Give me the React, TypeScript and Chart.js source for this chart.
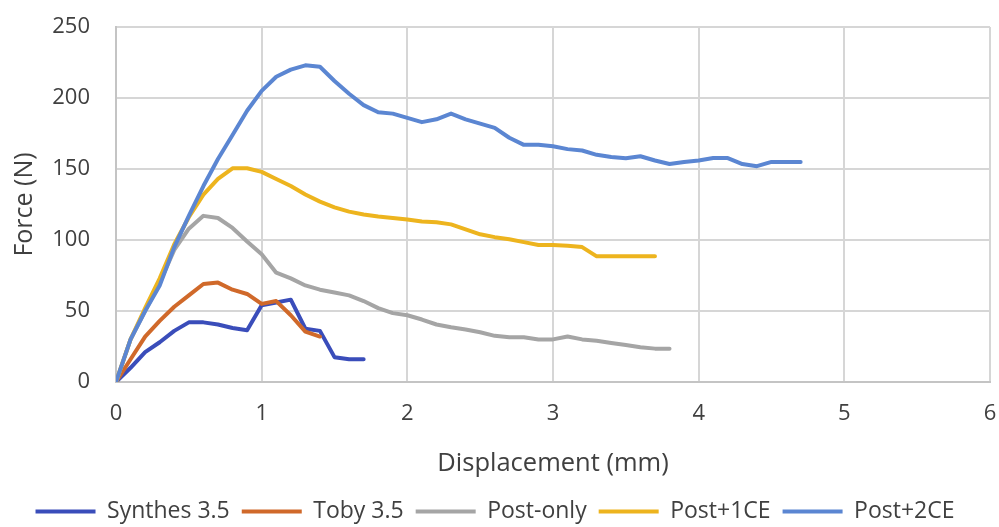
import React, { useEffect, useRef } from "react";
import { Chart, registerables } from "chart.js";

Chart.register(...registerables);

const displacement = [
  0, 0.1, 0.2, 0.3, 0.4, 0.5, 0.6, 0.7, 0.8, 0.9, 1.0, 1.1, 1.2, 1.3, 1.4, 1.5,
  1.6, 1.7, 1.8, 1.9, 2.0, 2.1, 2.2, 2.3, 2.4, 2.5, 2.6, 2.7, 2.8, 2.9, 3.0,
  3.1, 3.2, 3.3, 3.4, 3.5, 3.6, 3.7, 3.8, 3.9, 4.0, 4.1, 4.2, 4.3, 4.4, 4.5,
  4.6, 4.7,
];

const synthes35 = [0, 10, 21, 28, 36, 42, 42, 40.5, 38, 36.5, 54, 56, 58, 37.5, 36, 17.5, 16, 16];
const toby35 = [0, 16, 32, 43, 53, 61, 69, 70, 65, 62, 55, 57, 47, 35.5, 32];
const postOnly = [
  0, 30, 50, 70, 93, 108, 117, 115.5, 108.5, 99, 90, 77, 73, 68, 65, 63, 61, 57,
  52, 48.5, 47, 44, 40.5, 38.5, 37, 35, 32.5, 31.5, 31.5, 30, 30, 32, 30, 29,
  27.5, 26, 24.5, 23.5, 23.5,
];
const post1CE = [
  0, 30, 52, 73, 97, 116, 132, 143, 150.5, 150.5, 148, 143, 138, 132, 127, 123,
  120, 118, 116.5, 115.5, 114.5, 113, 112.5, 111, 107.5, 104, 102, 100.5, 98.5,
  96.5, 96.5, 96, 95, 88.5, 88.5, 88.5, 88.5, 88.5,
];
const post2CE = [
  0, 30, 50, 68, 95, 117, 138, 157, 174, 191, 205, 215, 220, 223, 222, 212, 203,
  195, 190, 189, 186, 183, 185, 189, 185, 182, 179, 172, 167, 167, 166, 164, 163,
  160, 158.5, 157.5, 159, 156, 153.5, 155, 156, 157.7, 157.7, 153.5, 152, 155,
  155, 155,
];

const seriesNames = ["Synthes 3.5", "Toby 3.5", "Post-only", "Post+1CE", "Post+2CE"];
const seriesValues = [synthes35, toby35, postOnly, post1CE, post2CE];
const seriesColors = ["#3A4DBA", "#D0692A", "#A5A5A5", "#EDB41E", "#5B86D2"];

const xTitle = "Displacement (mm)";
const yTitle = "Force (N)";
const FONT = "'Open Sans', sans-serif";

export default function App() {
  const canvasRef = useRef<HTMLCanvasElement | null>(null);

  useEffect(() => {
    document.body.style.margin = "0";
    const canvas = canvasRef.current;
    if (!canvas) return;
    const datasets = seriesNames.map((name, i) => ({
      label: name,
      data: seriesValues[i].map((v, j) => ({ x: displacement[j], y: v })),
      borderColor: seriesColors[i],
      backgroundColor: seriesColors[i],
      borderWidth: 4,
      pointRadius: 0,
      tension: 0,
      borderJoinStyle: "round" as const,
      borderCapStyle: "round" as const,
      order: seriesNames.length - i,
    }));

    const defaultLabels = (Chart.defaults.plugins.legend.labels as any).generateLabels;

    const chart = new Chart(canvas, {
      type: "line",
      data: { datasets },
      options: {
        animation: false,
        responsive: true,
        maintainAspectRatio: false,
        layout: { padding: { left: 0, right: 9, top: 27, bottom: -6 } },
        plugins: {
          tooltip: { enabled: false },
          legend: {
            position: "bottom",
            labels: {
              boxWidth: 60,
              boxHeight: 4,
              padding: 12,
              color: "#404040",
              font: { family: FONT, size: 23 },
              sort: (a: any, b: any) => a.datasetIndex - b.datasetIndex,
              generateLabels: (c: any) =>
                defaultLabels(c).map((item: any) => ({ ...item, lineWidth: 0 })),
            },
          },
        },
        scales: {
          x: {
            type: "linear",
            min: 0,
            max: 6,
            ticks: {
              stepSize: 1,
              padding: 0,
              color: "#404040",
              font: { family: FONT, size: 22 },
            },
            grid: {
              color: "#D6D6D6",
              lineWidth: 2,
              drawTicks: true,
              tickLength: 19,
              tickColor: "rgba(0,0,0,0)",
            },
            border: { color: "#C4C4C4", width: 2 },
            title: {
              display: true,
              text: xTitle,
              color: "#404040",
              font: { family: FONT, size: 25.5 },
              padding: { top: 21, bottom: 9 },
            },
          },
          y: {
            min: 0,
            max: 250,
            ticks: {
              stepSize: 50,
              padding: 0,
              color: "#404040",
              font: { family: FONT, size: 22 },
            },
            grid: {
              color: "#D6D6D6",
              lineWidth: 2,
              drawTicks: true,
              tickLength: 26,
              tickColor: "rgba(0,0,0,0)",
            },
            border: { color: "#C4C4C4", width: 2 },
            title: {
              display: true,
              text: yTitle,
              color: "#404040",
              font: { family: FONT, size: 25 },
              padding: { top: 10, bottom: 0 },
            },
            afterFit: (scale: any) => {
              scale.width = 116;
            },
          },
        },
      },
    });
    return () => chart.destroy();
  }, []);

  return (
    <div style={{ position: "fixed", left: 0, top: 0, width: 999, height: 527, background: "#fff" }}>
      <canvas ref={canvasRef} />
    </div>
  );
}
